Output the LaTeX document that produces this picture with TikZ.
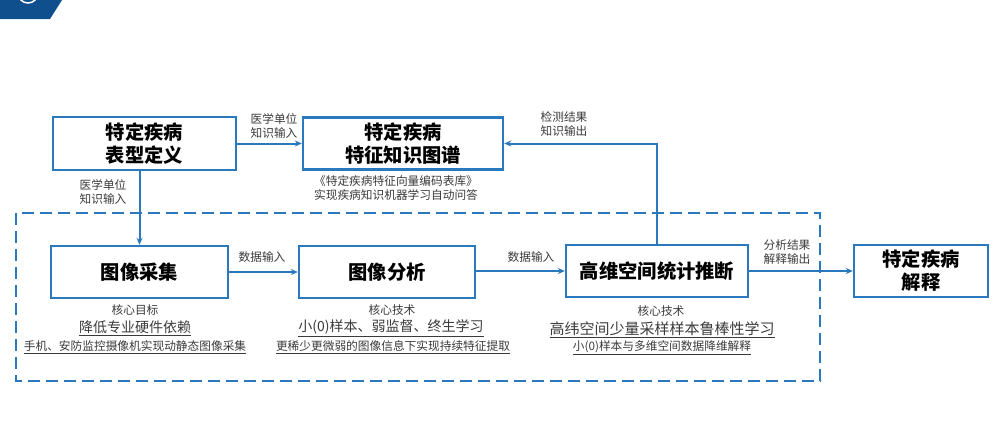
\documentclass[tikz,border=0pt]{standalone}
\usepackage{fontspec}
\setmainfont{Noto Sans CJK SC}
\usetikzlibrary{arrows.meta}
\definecolor{lineblue}{HTML}{2A78BE}
\definecolor{darkblue}{HTML}{0F4F8E}
\definecolor{txtgray}{HTML}{3A3A3A}
\tikzset{
  box/.style={draw=lineblue, line width=2.4pt, fill=white, inner sep=0pt, align=center,
    font=\fontsize{19.3}{23}\selectfont\bfseries, text=black},
  lbl/.style={align=center, text=txtgray, font=\fontsize{11.7}{14}\selectfont, inner sep=0pt},
  big/.style={text=txtgray, font=\fontsize{14}{16}\selectfont, inner sep=0pt},
  arr/.style={draw=lineblue, line width=2pt, -{Stealth[length=7pt,width=6pt]}},
}
\begin{document}
\begin{tikzpicture}[x=1pt,y=-1pt]
\useasboundingbox (0,0) rectangle (1000,442);
% header corner
\fill[darkblue] (0,0) -- (62,0) -- (50,19) -- (0,19) -- cycle;
\begin{scope}
\clip (0,0) rectangle (62,19);
\draw[white, line width=1.5pt] (28,-7) circle[radius=10];
\end{scope}
% dashed frame
\draw[lineblue, line width=1.8pt, dash pattern=on 12pt off 6pt] (16,213) rectangle (820,381);
% boxes
\node[box, minimum width=183pt, minimum height=53pt] (pheno) at (144.5,143.5) {特定疾病\\表型定义};
\node[box, minimum width=200pt, minimum height=52pt] (kg) at (403,143.5) {特定疾病\\特征知识图谱};
\node[box, minimum width=177pt, minimum height=52pt] (acq) at (139.5,272) {图像采集};
\node[box, minimum width=176pt, minimum height=52pt] (ana) at (387,272) {图像分析};
\node[box, minimum width=182pt, minimum height=52pt] (hd) at (657,271) {高维空间统计推断};
\node[box, minimum width=134pt, minimum height=52pt] (interp) at (921,271) {特定疾病\\解释};
% connectors
\draw[arr] (pheno.east |- kg.west) -- (kg.west);
\draw[arr] (acq.north |- pheno.south) -- (acq.north);
\draw[arr] (acq.east) -- (ana.west |- acq.east);
\draw[arr] (ana.east |- hd.west) -- (hd.west);
\draw[arr] (hd.north) |- (kg.east);
\draw[arr] (hd.east) -- (interp.west);
% connector labels
\node[lbl] (l1) at (274,126) {医学单位\\知识输入};
\node[lbl] (l2) at (103,192) {医学单位\\知识输入};
\node[lbl] (l3) at (262,257) {数据输入};
\node[lbl] (l4) at (531,257) {数据输入};
\node[lbl] (l5) at (564,124) {检测结果\\知识输出};
\node[lbl] (l6) at (787,252) {分析结果\\解释输出};
% texts under boxes
\node[lbl] (k1) at (396,181) {《特定疾病特征向量编码表库》};
\node[lbl] (k2) at (396,195.5) {实现疾病知识机器学习自动问答};
\node[lbl] (a1) at (135,310) {核心目标};
\node[big] (a2) at (135,328) {\underline{降低专业硬件依赖}};
\node[lbl] (a3) at (135,347) {\underline{手机、安防监控摄像机实现动静态图像采集}};
\node[lbl] (b1) at (392,310) {核心技术};
\node[big] (b2) at (391,328) {\underline{小(0)样本、弱监督、终生学习}};
\node[lbl] (b3) at (393,347) {\underline{更稀少更微弱的图像信息下实现持续特征提取}};
\node[lbl] (c1) at (661,311) {核心技术};
\node[big, font=\fontsize{15}{17}\selectfont] (c2) at (662,330) {\underline{高纬空间少量采样样本鲁棒性学习}};
\node[lbl] (c3) at (662,348) {\underline{小(0)样本与多维空间数据降维解释}};
\end{tikzpicture}
\end{document}
